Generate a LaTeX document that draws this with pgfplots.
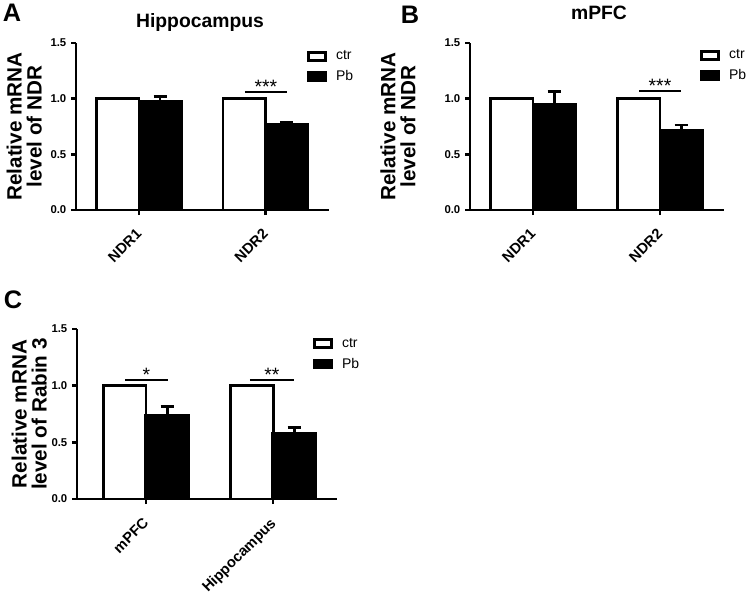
\documentclass[border=0pt]{standalone}
\usepackage{fontspec}
\setmainfont{Liberation Sans}
\usepackage{pgfplots}
\pgfplotsset{compat=1.18}

% shared look of the three GraphPad-style panels
\pgfplotsset{
  gpbar/.style={
    scale only axis, ybar=0pt, bar width=0.335,
    axis lines=left, axis line style={-, line width=2pt},
    ymin=0, ymax=1.5, ytick={0,0.5,1,1.5},
    xtick={0,1}, xmax=1.504,
    tick align=outside, major tick length=3.75pt,
    tick style={line width=2pt, black},
    yticklabel style={font=\bfseries\fontsize{8.5}{9}\selectfont,
      /pgf/number format/fixed, /pgf/number format/fixed zerofill,
      /pgf/number format/precision=1, /pgf/number format/assume math mode=true},
    xticklabel style={font=\bfseries\fontsize{11}{12}\selectfont,
      rotate=45, anchor=north east, inner sep=0pt, yshift=-4.6pt, xshift=-8.6pt},
    ylabel style={font=\bfseries\fontsize{15.5}{15}\selectfont,
      align=center, anchor=south, inner sep=0pt},
    legend cell align=left,
    legend style={draw=none, fill=none, anchor=north west, inner sep=0pt,
      row sep=4.5pt, column sep=6pt, font=\fontsize{10.5}{12}\selectfont,
      nodes={inner sep=1pt}},
    clip=false,
  },
  legbox/.style={legend image code/.code={\draw[##1] (0pt,-3pt) rectangle (12.75pt,3pt);}},
  ctr/.style={fill=white, draw=black, line width=2pt, bar shift=-0.1675, legbox},
  pb/.style={fill=black, draw=black, line width=2pt, bar shift=0.1675, legbox,
    error bars/y dir=plus, error bars/y explicit, error bars/error mark=|,
    error bars/error bar style={line width=2pt, black},
    error bars/error mark options={line width=2pt, mark size=4.9pt, black}},
}
\tikzset{sig/.style={line width=2pt}, star/.style={anchor=south, inner sep=0pt, font=\fontsize{14.5}{14.5}\selectfont}}

\begin{document}
\begin{tikzpicture}
\path[use as bounding box] (0,0) rectangle (561pt,-446.25pt);

% A: Hippocampus
\begin{axis}[gpbar, at={(57pt,-157.5pt)}, anchor=south west,
  width=189.75pt, height=125.25pt, xmin=-0.498,
  xticklabels={NDR1,NDR2},
  ylabel={Relative mRNA\\level of NDR},
  ylabel style={at={(axis description cs:-0.134,0.5)}},
  legend style={at={(axis description cs:0.912,0.962)}}]
\addplot[ctr] coordinates {(0,1) (1,1)};
\addplot[pb] coordinates {(0,0.978) +- (0,0.043) (1,0.767) +- (0,0.023)};
\legend{ctr,Pb}
\draw[sig] (axis cs:0.838,1.059) -- (axis cs:1.17,1.059);
\node[star] at (axis cs:1.004,1.047) {***};
\end{axis}

% B: mPFC
\begin{axis}[gpbar, at={(352.5pt,-157.5pt)}, anchor=south west,
  width=190.5pt, height=125.25pt, xmin=-0.496,
  xticklabels={NDR1,NDR2},
  ylabel={Relative mRNA\\level of NDR},
  ylabel style={at={(axis description cs:-0.213,0.5)}},
  legend style={at={(axis description cs:0.905,0.968)}}]
\addplot[ctr] coordinates {(0,1) (1,1)};
\addplot[pb] coordinates {(0,0.946) +- (0,0.116) (1,0.715) +- (0,0.048)};
\legend{ctr,Pb}
\draw[sig] (axis cs:0.835,1.068) -- (axis cs:1.165,1.068);
\node[star] at (axis cs:1.0,1.056) {***};
\end{axis}

% C: Rabin 3
\begin{axis}[gpbar, at={(57.75pt,-374.25pt)}, anchor=south west,
  width=195pt, height=127.5pt, xmin=-0.543, bar width=0.338,
  xticklabels={mPFC,Hippocampus},
  ylabel={Relative mRNA\\level of Rabin 3},
  ylabel style={at={(axis description cs:-0.115,0.5)}},
  legend style={at={(axis description cs:0.907,0.955)}}]
\addplot[bar shift=-0.169, ctr] coordinates {(0,1) (1,1)};
\addplot[bar shift=0.169, pb] coordinates {(0,0.735) +- (0,0.080) (1,0.579) +- (0,0.050)};
\legend{ctr,Pb}
\draw[sig] (axis cs:-0.165,1.05) -- (axis cs:0.173,1.05);
\node[star] at (axis cs:0.004,1.038) {*};
\draw[sig] (axis cs:0.819,1.05) -- (axis cs:1.165,1.05);
\node[star] at (axis cs:0.992,1.038) {**};
\end{axis}

% panel letters and titles
\node[font=\bfseries\fontsize{19}{19}\selectfont] at (9pt,-9.4pt) {A};
\node[font=\bfseries\fontsize{19}{19}\selectfont] at (307.5pt,-11.25pt) {B};
\node[font=\bfseries\fontsize{19}{19}\selectfont] at (9.75pt,-224.6pt) {C};
\node[font=\bfseries\fontsize{14.5}{15}\selectfont] at (150pt,-17.25pt) {Hippocampus};
\node[font=\bfseries\fontsize{14.5}{15}\selectfont] at (449.25pt,-10pt) {mPFC};
\end{tikzpicture}
\end{document}
